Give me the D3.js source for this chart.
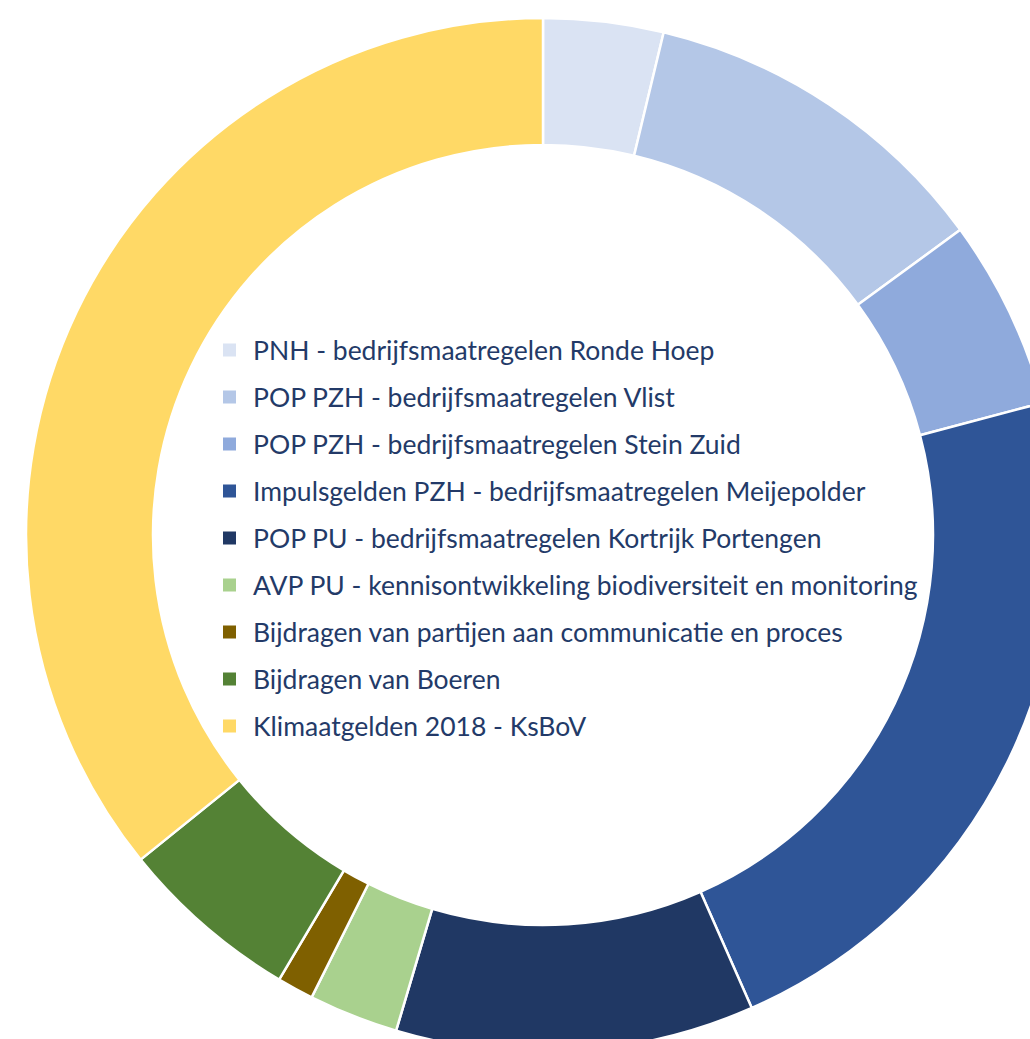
<!DOCTYPE html>
<html>
<head>
<meta charset="utf-8">
<script src="https://cdn.jsdelivr.net/npm/d3@7"></script>
<style>
  html, body { margin: 0; padding: 0; background: #ffffff; overflow: hidden; }
  svg { display: block; }
</style>
</head>
<body>
<svg id="chart" width="1030" height="1039"></svg>
<script>
// Data (share of total)
const categories = [
  "PNH - bedrijfsmaatregelen Ronde Hoep",
  "POP PZH - bedrijfsmaatregelen Vlist",
  "POP PZH - bedrijfsmaatregelen Stein Zuid",
  "Impulsgelden PZH - bedrijfsmaatregelen Meijepolder",
  "POP PU - bedrijfsmaatregelen Kortrijk Portengen",
  "AVP PU - kennisontwikkeling biodiversiteit en monitoring",
  "Bijdragen van partijen aan communicatie en proces",
  "Bijdragen van Boeren",
  "Klimaatgelden 2018 - KsBoV"
];
const values = [3.75, 11.2, 5.93, 22.5, 11.2, 2.8, 1.14, 5.67, 35.8];
const colors = ["#dae3f3", "#b4c7e7", "#8faadc", "#2f5597", "#203864", "#a9d18e", "#7f6000", "#548235", "#ffd966"];

const svg = d3.select("#chart");
const cx = 543, cy = 535, outerR = 517, innerR = 390;

const pie = d3.pie().sort(null).value(d => d.value);
const arc = d3.arc().innerRadius(innerR).outerRadius(outerR);
const data = categories.map((c, i) => ({ name: c, value: values[i], color: colors[i] }));

const g = svg.append("g").attr("transform", `translate(${cx},${cy})`);
g.selectAll("path")
  .data(pie(data))
  .join("path")
  .attr("d", arc)
  .attr("fill", d => d.data.color)
  .attr("stroke", "#ffffff")
  .attr("stroke-width", 2.5)
  .attr("stroke-linejoin", "round");

// Legend
const legendX = 223, legendY0 = 350, rowH = 47, sq = 13;
const fontFamily = "'Lato', 'Noto Sans', sans-serif";
const leg = svg.append("g");
const rows = leg.selectAll("g.row")
  .data(data)
  .join("g")
  .attr("class", "row")
  .attr("transform", (d, i) => `translate(${legendX},${legendY0 + i * rowH})`);

rows.append("rect")
  .attr("x", 0).attr("y", -sq / 2)
  .attr("width", sq).attr("height", sq)
  .attr("fill", d => d.color);

const texts = rows.append("text")
  .attr("x", 30)
  .attr("y", 0)
  .attr("dy", "0.36em")
  .attr("fill", "#233a68")
  .style("font-family", fontFamily)
  .style("font-size", "26px")
  .text(d => d.name);

// fit the longest label to the width seen in the reference
let maxW = 0;
texts.each(function() { maxW = Math.max(maxW, this.getComputedTextLength()); });
const targetW = 665;
const fs = Math.min(27, 26 * targetW / maxW);
texts.style("font-size", fs + "px");
</script>
</body>
</html>
